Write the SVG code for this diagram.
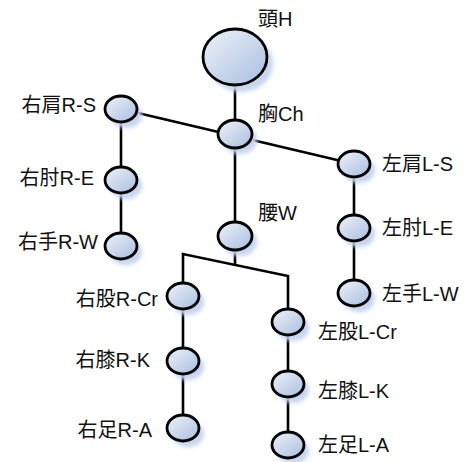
<svg xmlns="http://www.w3.org/2000/svg" width="468" height="462" viewBox="0 0 468 462">
<style>
.lbl{font-family:"Liberation Sans","Noto Sans CJK JP",sans-serif;font-size:20px;fill:#111}
.end{text-anchor:end}
.nd{stroke:#000;stroke-width:2.8;fill:url(#g)}
.sh{fill:#c6d4ee;filter:url(#b)}
.ln{stroke:#000;stroke-width:2.6;fill:none}
</style>
<defs>
<linearGradient id="g" x1="0" y1="0" x2="1" y2="1">
<stop offset="0" stop-color="#edf2fa"/>
<stop offset="1" stop-color="#a9bedf"/>
</linearGradient>
<filter id="b" x="-50%" y="-50%" width="200%" height="200%"><feGaussianBlur stdDeviation="2"/></filter>
</defs>
<rect width="468" height="462" fill="#fff"/>
<g id="connectors">
<line class="ln" x1="235" y1="57" x2="235" y2="236"/>
<line class="ln" x1="121" y1="109" x2="354" y2="164"/>
<line class="ln" x1="121" y1="109" x2="121" y2="246"/>
<line class="ln" x1="354" y1="164" x2="354" y2="293"/>
<line class="ln" x1="235" y1="236" x2="235" y2="265"/>
<polyline class="ln" points="183,428 183,254 288,276 288,446"/>
</g>
<g id="head"><ellipse class="sh" cx="241" cy="64" rx="32" ry="28"/><ellipse class="nd" cx="235" cy="57" rx="32" ry="28"/><text class="lbl" x="258" y="26">頭H</text></g>
<g id="chest"><ellipse class="sh" cx="240" cy="140" rx="17" ry="14"/><ellipse class="nd" cx="235" cy="134" rx="17" ry="14"/><text class="lbl" x="258" y="121">胸Ch</text></g>
<g id="waist"><ellipse class="sh" cx="240" cy="242" rx="17" ry="14"/><ellipse class="nd" cx="235" cy="236" rx="17" ry="14"/><text class="lbl" x="258" y="220">腰W</text></g>
<g id="r-shoulder"><ellipse class="sh" cx="126" cy="115" rx="16" ry="13"/><ellipse class="nd" cx="121" cy="109" rx="16" ry="13"/><text class="lbl end" x="96" y="112">右肩R-S</text></g>
<g id="r-elbow"><ellipse class="sh" cx="126" cy="186" rx="16" ry="13"/><ellipse class="nd" cx="121" cy="180" rx="16" ry="13"/><text class="lbl end" x="94" y="185">右肘R-E</text></g>
<g id="r-wrist"><ellipse class="sh" cx="126" cy="252" rx="16" ry="13"/><ellipse class="nd" cx="121" cy="246" rx="16" ry="13"/><text class="lbl end" x="98" y="249">右手R-W</text></g>
<g id="l-shoulder"><ellipse class="sh" cx="359" cy="170" rx="16" ry="13"/><ellipse class="nd" cx="354" cy="164" rx="16" ry="13"/><text class="lbl" x="382" y="171">左肩L-S</text></g>
<g id="l-elbow"><ellipse class="sh" cx="359" cy="234" rx="16" ry="13"/><ellipse class="nd" cx="354" cy="228" rx="16" ry="13"/><text class="lbl" x="382" y="235">左肘L-E</text></g>
<g id="l-wrist"><ellipse class="sh" cx="359" cy="299" rx="16" ry="13"/><ellipse class="nd" cx="354" cy="293" rx="16" ry="13"/><text class="lbl" x="382" y="301">左手L-W</text></g>
<g id="r-thigh"><ellipse class="sh" cx="188" cy="302" rx="16" ry="13"/><ellipse class="nd" cx="183" cy="296" rx="16" ry="13"/><text class="lbl end" x="158" y="306">右股R-Cr</text></g>
<g id="r-knee"><ellipse class="sh" cx="188" cy="367" rx="16" ry="13"/><ellipse class="nd" cx="183" cy="361" rx="16" ry="13"/><text class="lbl end" x="150" y="367">右膝R-K</text></g>
<g id="r-ankle"><ellipse class="sh" cx="188" cy="434" rx="16" ry="13"/><ellipse class="nd" cx="183" cy="428" rx="16" ry="13"/><text class="lbl end" x="152" y="437">右足R-A</text></g>
<g id="l-thigh"><ellipse class="sh" cx="293" cy="328" rx="16" ry="13"/><ellipse class="nd" cx="288" cy="322" rx="16" ry="13"/><text class="lbl" x="318" y="339">左股L-Cr</text></g>
<g id="l-knee"><ellipse class="sh" cx="293" cy="390" rx="16" ry="13"/><ellipse class="nd" cx="288" cy="384" rx="16" ry="13"/><text class="lbl" x="318" y="398">左膝L-K</text></g>
<g id="l-ankle"><ellipse class="sh" cx="293" cy="451" rx="16" ry="13"/><ellipse class="nd" cx="288" cy="445" rx="16" ry="13"/><text class="lbl" x="318" y="452">左足L-A</text></g>
</svg>
